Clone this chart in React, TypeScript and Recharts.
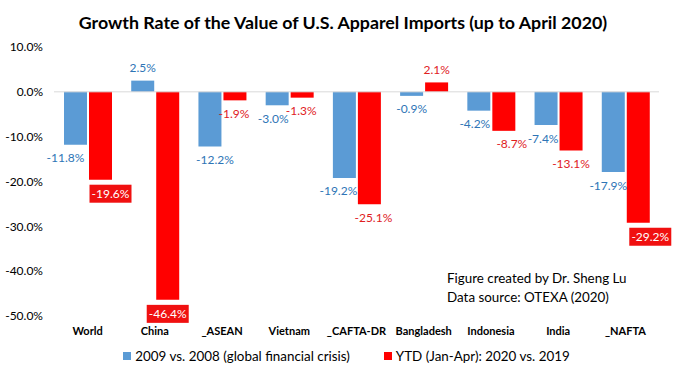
import React from "react";
import {
  BarChart,
  Bar,
  XAxis,
  YAxis,
  ReferenceLine,
  Legend,
  LabelList,
} from "recharts";

const categories = [
  "World",
  "China",
  "_ASEAN",
  "Vietnam",
  "_CAFTA-DR",
  "Bangladesh",
  "Indonesia",
  "India",
  "_NAFTA",
];
const crisis2009 = [-11.8, 2.5, -12.2, -3.0, -19.2, -0.9, -4.2, -7.4, -17.9];
const ytd2020 = [-19.6, -46.4, -1.9, -1.3, -25.1, 2.1, -8.7, -13.1, -29.2];
const yTicks = [10, 0, -10, -20, -30, -40, -50];

const BLUE = "#5B9BD5";
const RED = "#FF0000";
const FONT = "Lato, 'Open Sans', sans-serif";

// label nudges, as Excel placed them
const blueShift = [-10, 0, 5, -4, -6, 0, -4, -3, -5];
const redShift = [10, 0, -1, -1, 4, 0, 8, 0, 12];
const boxedRed = ["World", "China", "_NAFTA"];

const data = categories.map((name, i) => ({
  name,
  crisis: crisis2009[i],
  ytd: ytd2020[i],
}));

const fmt = (v: number) => `${v.toFixed(1)}%`;

function makeLabel(color: string, shifts: number[], boxed: string[]) {
  return (props: any) => {
    const { x, y, width, height, value, index } = props;
    const top = Math.min(y, y + height);
    const bottom = Math.max(y, y + height);
    const cx = x + width / 2 + (shifts[index] || 0);
    const neg = value < 0;
    const cy = neg ? bottom + 13 : top - 13;
    const text = fmt(value);
    if (boxed.includes(categories[index])) {
      const by = bottom + 14;
      return (
        <g>
          <rect x={cx - 21} y={by - 9} width={42} height={18} fill="#F01010" />
          <text
            x={cx}
            y={by}
            textAnchor="middle"
            dominantBaseline="central"
            fill="#fff"
            fontSize={12}
            fontFamily={FONT}
          >
            {text}
          </text>
        </g>
      );
    }
    return (
      <text
        x={cx}
        y={cy}
        textAnchor="middle"
        dominantBaseline="central"
        fill={color}
        fontSize={12}
        fontFamily={FONT}
      >
        {text}
      </text>
    );
  };
}

function LegendBox() {
  const item = (color: string, label: string) => (
    <span style={{ display: "inline-flex", alignItems: "center" }}>
      <span
        style={{
          width: 8,
          height: 8,
          background: color,
          display: "inline-block",
          marginRight: 4,
        }}
      />
      <span>{label}</span>
    </span>
  );
  return (
    <div
      style={{
        height: 24,
        display: "flex",
        justifyContent: "center",
        alignItems: "center",
        gap: 34,
        fontFamily: FONT,
        fontSize: 13.4,
        color: "#000",
        paddingLeft: 34,
      }}
    >
      {item(BLUE, "2009 vs. 2008 (global financial crisis)")}
      {item(RED, "YTD (Jan-Apr): 2020 vs. 2019")}
    </div>
  );
}

export default function App() {
  return (
    <div
      style={{
        position: "absolute",
        left: 0,
        top: 0,
        width: 691,
        height: 368,
        background: "#fff",
        fontFamily: FONT,
      }}
    >
      <div
        style={{
          position: "absolute",
          left: 0,
          width: 686,
          top: 10,
          textAlign: "center",
          fontWeight: 700,
          fontSize: 17.8,
          lineHeight: "24px",
          color: "#000",
        }}
      >
        Growth Rate of the Value of U.S. Apparel Imports (up to April 2020)
      </div>
      <BarChart
        width={691}
        height={368}
        data={data}
        margin={{ top: 47, right: 32, bottom: 0, left: 0 }}
        barCategoryGap={10}
        barGap={2}
      >
        <XAxis
          dataKey="name"
          axisLine={false}
          tickLine={false}
          tickSize={0}
          tickMargin={11}
          height={28}
          interval={0}
          tick={{ fill: "#000", fontSize: 11, fontWeight: 700, fontFamily: FONT }}
        />
        <YAxis
          domain={[-50, 10]}
          ticks={yTicks}
          tickFormatter={fmt}
          axisLine={false}
          tickLine={false}
          tickSize={0}
          tickMargin={11}
          width={54}
          tick={{ fill: "#000", fontSize: 12, fontFamily: FONT }}
        />
        <ReferenceLine y={0} stroke="#D9D9D9" strokeWidth={1} />
        <Legend verticalAlign="bottom" content={() => <LegendBox />} />
        <Bar dataKey="crisis" fill={BLUE} isAnimationActive={false}>
          <LabelList
            dataKey="crisis"
            content={makeLabel("#2E75B6", blueShift, [])}
          />
        </Bar>
        <Bar dataKey="ytd" fill={RED} isAnimationActive={false}>
          <LabelList
            dataKey="ytd"
            content={makeLabel("#E0201E", redShift, boxedRed)}
          />
        </Bar>
      </BarChart>
      <div
        style={{
          position: "absolute",
          left: 447,
          top: 269,
          fontSize: 13.4,
          lineHeight: "19px",
          color: "#000",
        }}
      >
        Figure created by Dr. Sheng Lu
        <br />
        Data source: OTEXA (2020)
      </div>
    </div>
  );
}
